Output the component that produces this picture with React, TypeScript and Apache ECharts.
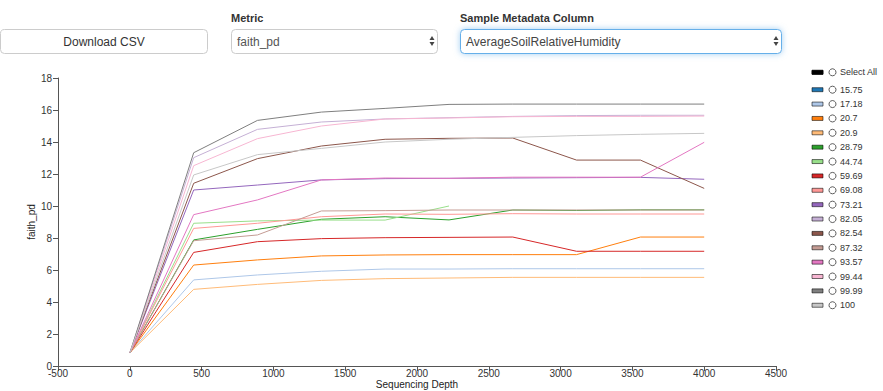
import React, { useEffect, useRef } from "react";
import * as echarts from "echarts";

// Sequencing depths (x values)
const depths = [1, 445, 889, 1334, 1778, 2223, 2667, 3111, 3556, 4000];

// Groups (AverageSoilRelativeHumidity) and their colours
const groups = ["15.75", "17.18", "20.7", "20.9", "28.79", "44.74", "59.69", "69.08", "73.21", "82.05", "82.54", "87.32", "93.57", "99.44", "99.99", "100"];
const colors = ["#1f77b4", "#aec7e8", "#ff7f0e", "#ffbb78", "#2ca02c", "#98df8a", "#d62728", "#ff9896", "#9467bd", "#c5b0d5", "#8c564b", "#c49c94", "#e377c2", "#f7b6d2", "#7f7f7f", "#c7c7c7"];

// faith_pd values per group (null = no data at that depth)
const g1575 = [0.83, null, null, null, null, null, null, null, null, null];
const g1718 = [0.83, 5.38, 5.69, 5.92, 6.06, 6.06, 6.08, 6.08, 6.08, 6.08];
const g207 = [0.83, 6.31, 6.63, 6.88, 6.94, 6.96, 6.96, 6.96, 8.06, 8.06];
const g209 = [0.83, 4.79, 5.1, 5.35, 5.46, 5.5, 5.54, 5.54, 5.54, 5.54];
const g2879 = [0.83, 7.88, 8.54, 9.17, 9.33, 9.13, 9.75, 9.72, 9.76, 9.76];
const g4474 = [0.83, 8.92, 9.07, 9.12, 9.12, 10.0, null, null, null, null];
const g5969 = [0.83, 7.1, 7.77, 7.96, 8.02, 8.04, 8.06, 7.17, 7.17, 7.17];
const g6908 = [0.83, 8.6, 8.92, 9.33, 9.5, 9.48, 9.52, 9.5, 9.5, 9.5];
const g7321 = [0.83, 11.0, 11.31, 11.63, 11.71, 11.73, 11.75, 11.77, 11.79, 11.67];
const g8205 = [0.83, 13.02, 14.79, 15.25, 15.44, 15.52, 15.6, 15.65, 15.67, 15.67];
const g8254 = [0.83, 11.42, 12.96, 13.75, 14.17, 14.23, 14.25, 12.87, 12.87, 11.1];
const g8732 = [0.83, 7.83, 8.19, 9.69, 9.71, 9.75, 9.75, 9.75, 9.75, 9.75];
const g9357 = [0.83, 9.46, 10.38, 11.63, 11.75, 11.73, 11.8, 11.8, 11.8, 13.98];
const g9944 = [0.83, 12.52, 14.21, 15.0, 15.44, 15.5, 15.58, 15.6, 15.6, 15.62];
const g9999 = [0.83, 13.33, 15.35, 15.87, 16.1, 16.35, 16.37, 16.37, 16.37, 16.37];
const g100 = [0.83, 11.94, 13.21, 13.6, 14.0, 14.17, 14.29, 14.4, 14.48, 14.54];

const groupValues = [g1575, g1718, g207, g209, g2879, g4474, g5969, g6908, g7321, g8205, g8254, g8732, g9357, g9944, g9999, g100];

const xTicks = { min: -500, max: 4500, interval: 500 };
const yTicks = { min: 0, max: 18, interval: 2 };

const FONT = "'Liberation Sans', Arial, Helvetica, sans-serif";

function selectArrows(x: number) {
  return [
    { type: "polygon", shape: { points: [[x - 2.5, 40], [x + 2.5, 40], [x, 36]] }, style: { fill: "#444" } },
    { type: "polygon", shape: { points: [[x - 2.5, 42], [x + 2.5, 42], [x, 46]] }, style: { fill: "#444" } },
  ];
}

export default function App() {
  const ref = useRef<HTMLDivElement>(null);
  useEffect(() => {
    if (!ref.current) return;
    const chart = echarts.init(ref.current, undefined, { renderer: "svg" });

    const series = groups.map((g, i) => ({
      name: g,
      type: "line",
      data: depths
        .map((d, j) => [d, groupValues[i][j]])
        .filter((p) => p[1] !== null),
      showSymbol: false,
      symbol: "none",
      silent: true,
      lineStyle: { color: colors[i], width: 1 },
      itemStyle: { color: colors[i] },
      z: 2,
    }));

    const legendTop = 89.7;
    const legendStep = 14.37;
    const legendEls: any[] = [];
    const addLegendRow = (label: string, color: string, cy: number, stroke: string) => {
      legendEls.push({
        type: "rect",
        shape: { x: 812, y: cy - 2, width: 11, height: 4 },
        style: { fill: color, stroke: stroke, lineWidth: 1 },
      });
      legendEls.push({
        type: "circle",
        shape: { cx: 832.5, cy: cy, r: 3.5 },
        style: { fill: "#fff", stroke: "#333", lineWidth: 0.8 },
      });
      legendEls.push({
        type: "text",
        x: 840,
        y: cy,
        style: { text: label, fill: "#333", font: `9px ${FONT}`, align: "left", verticalAlign: "middle", textAlign: "left", textVerticalAlign: "middle" },
      });
    };
    addLegendRow("Select All", "#000", 72.3, "#000");
    groups.forEach((g, i) => addLegendRow(g, colors[i], legendTop + i * legendStep, "rgba(0,0,0,0.55)"));

    const controls: any[] = [
      // Download CSV button
      { type: "rect", shape: { x: 0.5, y: 29.5, width: 207, height: 24, r: 4 }, style: { fill: "#fff", stroke: "#ccc", lineWidth: 1 } },
      { type: "text", x: 104, y: 41.5, style: { text: "Download CSV", fill: "#333", font: `12px ${FONT}`, align: "center", verticalAlign: "middle", textAlign: "center", textVerticalAlign: "middle" } },
      // Metric
      { type: "text", x: 231, y: 18, style: { text: "Metric", fill: "#333", font: `bold 11px ${FONT}`, align: "left", verticalAlign: "middle", textAlign: "left", textVerticalAlign: "middle" } },
      { type: "rect", shape: { x: 231.5, y: 29.5, width: 206, height: 24, r: 4 }, style: { fill: "#fff", stroke: "#ccc", lineWidth: 1 } },
      { type: "text", x: 237, y: 41.5, style: { text: "faith_pd", fill: "#555", font: `12px ${FONT}`, align: "left", verticalAlign: "middle", textAlign: "left", textVerticalAlign: "middle" } },
      ...selectArrows(432),
      // Sample Metadata Column
      { type: "text", x: 460, y: 18, style: { text: "Sample Metadata Column", fill: "#333", font: `bold 11px ${FONT}`, align: "left", verticalAlign: "middle", textAlign: "left", textVerticalAlign: "middle" } },
      { type: "rect", shape: { x: 460.5, y: 29.5, width: 321, height: 24, r: 4 }, style: { fill: "#fff", stroke: "#66afe9", lineWidth: 1, shadowBlur: 6, shadowColor: "rgba(102,175,233,0.6)" } },
      { type: "text", x: 466, y: 41.5, style: { text: "AverageSoilRelativeHumidity", fill: "#444", font: `12px ${FONT}`, align: "left", verticalAlign: "middle", textAlign: "left", textVerticalAlign: "middle" } },
      ...selectArrows(776),
    ];

    const axisCommon = {
      axisTick: { show: true, length: 5, inside: false, lineStyle: { color: "#555" } },
      splitLine: { show: false },
      nameTextStyle: { color: "#222", fontSize: 10, fontFamily: FONT },
      nameMoveOverlap: false,
    };

    chart.setOption({
      animation: false,
      backgroundColor: "#fff",
      textStyle: { fontFamily: FONT },
      grid: { left: 58, right: 107, top: 78, bottom: 25, containLabel: false, outerBoundsMode: "none" },
      xAxis: {
        type: "value",
        ...xTicks,
        ...axisCommon,
        axisLine: { show: true, onZero: false, lineStyle: { color: "#555", width: 1 } },
        name: "Sequencing Depth",
        nameLocation: "middle",
        nameGap: 13.5,
        axisLabel: { color: "#333", fontSize: 10, margin: 2, fontFamily: FONT, showMinLabel: true, showMaxLabel: true, formatter: (v: number) => String(v) },
      },
      yAxis: {
        type: "value",
        ...yTicks,
        ...axisCommon,
        axisLine: { show: true, onZero: false, lineStyle: { color: "#555", width: 1 } },
        name: "faith_pd",
        nameLocation: "middle",
        nameGap: 22,
        axisLabel: { color: "#333", fontSize: 10, margin: 6, fontFamily: FONT, showMinLabel: true, showMaxLabel: true, formatter: (v: number) => String(v) },
      },
      series,
      graphic: { elements: [...controls, ...legendEls] },
    });
    return () => chart.dispose();
  }, []);
  return <div ref={ref} style={{ position: "absolute", left: 0, top: 0, width: 883, height: 391 }} />;
}
